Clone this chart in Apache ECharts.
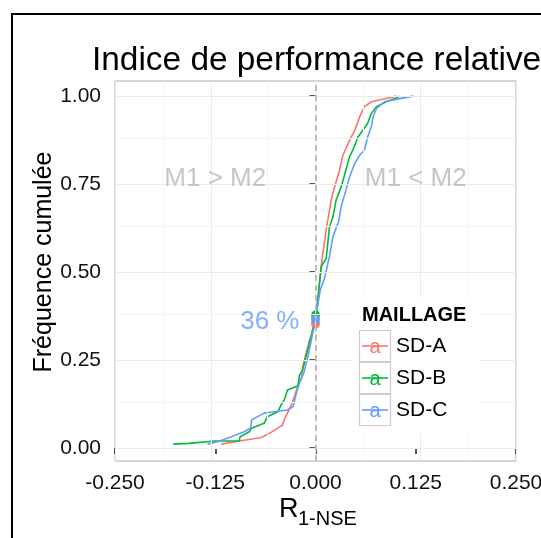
<!DOCTYPE html>
<html><head><meta charset="utf-8">
<script src="https://cdn.jsdelivr.net/npm/echarts@6/dist/echarts.min.js"></script>
<style>html,body{margin:0;padding:0;background:#fff}#c{width:541px;height:538px}</style>
</head><body><div id="c"></div>
<script>
// ---- data ----
const seriesNames = ['SD-A', 'SD-B', 'SD-C'];
const seriesColors = ['#F8766D', '#00BA38', '#619CFF'];

const sdA_x = [-0.1175, -0.095, -0.0675, -0.055, -0.041, -0.039, -0.029, -0.0225, -0.0175, -0.016, -0.0075, 0, 0.004, 0.0083, 0.0133, 0.0196, 0.0238, 0.03, 0.0342, 0.0425, 0.049, 0.055, 0.061, 0.0696, 0.088, 0.101];
const sdA_y = [0.011, 0.02, 0.03, 0.045, 0.065, 0.08, 0.128, 0.173, 0.2, 0.23, 0.307, 0.353, 0.45, 0.539, 0.619, 0.705, 0.742, 0.79, 0.832, 0.875, 0.903, 0.941, 0.97, 0.984, 0.993, 1.0];

const sdB_x = [-0.1775, -0.1575, -0.126, -0.095, -0.094, -0.0825, -0.080, -0.064, -0.06, -0.047, -0.043, -0.039, -0.035, -0.022, -0.02, -0.016, -0.012, -0.0054, 0, 0.003, 0.007, 0.0133, 0.0175, 0.0217, 0.0258, 0.032, 0.038, 0.0425, 0.0467, 0.053, 0.059, 0.065, 0.0696, 0.076, 0.088, 0.099, 0.105];
const sdB_y = [0.011, 0.013, 0.02, 0.02, 0.032, 0.046, 0.056, 0.07, 0.089, 0.103, 0.122, 0.136, 0.165, 0.176, 0.207, 0.222, 0.26, 0.316, 0.378, 0.42, 0.515, 0.539, 0.629, 0.657, 0.705, 0.742, 0.79, 0.828, 0.847, 0.884, 0.903, 0.922, 0.951, 0.97, 0.984, 0.993, 1.0];

const sdC_x = [-0.1346, -0.122, -0.105, -0.089, -0.081, -0.0796, -0.064, -0.051, -0.035, -0.028, -0.024, -0.02, -0.014, -0.0075, 0, 0.006, 0.011, 0.0175, 0.0217, 0.029, 0.032, 0.038, 0.0425, 0.049, 0.055, 0.061, 0.065, 0.0696, 0.0717, 0.076, 0.086, 0.105, 0.122];
const sdC_y = [0.011, 0.018, 0.032, 0.046, 0.056, 0.08, 0.099, 0.103, 0.108, 0.117, 0.155, 0.184, 0.217, 0.28, 0.366, 0.45, 0.48, 0.545, 0.6, 0.645, 0.686, 0.733, 0.771, 0.809, 0.832, 0.847, 0.884, 0.913, 0.941, 0.965, 0.984, 0.993, 1.0];

const crossX = [0, 0, 0];
const crossY = [0.353, 0.378, 0.366];

const xTicks = [-0.25, -0.125, 0, 0.125, 0.25];
const yTicks = [0, 0.25, 0.5, 0.75, 1];
const xMinor = [-0.1875, -0.0625, 0.0625, 0.1875];
const yMinor = [0.125, 0.375, 0.625, 0.875];

const annotTexts = ['M1 > M2', 'M1 < M2'];
const annotX = [-0.125, 0.125];
const annotY = [0.765, 0.765];
const pctText = '36 %';
const pctX = -0.02;
const pctY = 0.358;

const titleText = 'Indice de performance relative';
const yTitle = 'Fréquence cumulée';
const legendTitle = 'MAILLAGE';

// ---- build ----
const FF = '"Liberation Sans", Arial, sans-serif';
const zip = (xs, ys) => xs.map((x, i) => [x, ys[i]]);
const curves = [zip(sdA_x, sdA_y), zip(sdB_x, sdB_y), zip(sdC_x, sdC_y)];

const gridLines = [];
xMinor.forEach(v => gridLines.push({ xAxis: v, lineStyle: { color: '#f4f4f4', width: 1, type: 'solid' } }));
yMinor.forEach(v => gridLines.push({ yAxis: v, lineStyle: { color: '#f4f4f4', width: 1, type: 'solid' } }));
xTicks.forEach(v => gridLines.push({ xAxis: v, lineStyle: { color: '#ebebeb', width: 1, type: 'solid' } }));
yTicks.forEach(v => gridLines.push({ yAxis: v, lineStyle: { color: '#ebebeb', width: 1, type: 'solid' } }));
gridLines.push({ xAxis: 0, lineStyle: { color: '#b0b0b0', width: 1.6, type: [6, 4] } });

const series = [{
  type: 'line', data: [], z: 1, silent: true,
  markLine: { silent: true, symbol: ['none', 'none'], label: { show: false }, animation: false, data: gridLines }
}];
curves.forEach((d, i) => series.push({
  name: seriesNames[i], type: 'line', data: d, showSymbol: false, z: 3,
  lineStyle: { color: seriesColors[i], width: 1.6 }, itemStyle: { color: seriesColors[i] }
}));
crossY.forEach((y, i) => series.push({
  type: 'scatter', data: [[crossX[i], y]], symbolSize: 9, z: 4,
  itemStyle: { color: seriesColors[i], opacity: 1 }
}));
series.push({
  type: 'scatter', symbolSize: 0, z: 5, silent: true,
  data: annotTexts.map((t, i) => ({ name: t, value: [annotX[i], annotY[i]] })),
  label: { show: true, position: 'inside', formatter: p => p.name, fontFamily: FF, fontSize: 26, color: '#b8b8b8' }
});
series.push({
  type: 'scatter', symbolSize: 0, z: 5, silent: true,
  data: [{ name: pctText, value: [pctX, pctY] }],
  label: { show: true, position: 'left', distance: 0, formatter: p => p.name, fontFamily: FF, fontSize: 26, color: '#619CFF' }
});

// legend graphic
const legendEls = [
  { type: 'rect', z: 100, shape: { x: 352, y: 297, width: 128, height: 136 }, style: { fill: '#ffffff' } },
  { type: 'text', z: 101, x: 362, y: 315, style: { text: legendTitle, fontWeight: 'bold', fontSize: 20, fontFamily: FF, fill: '#000', verticalAlign: 'middle' } }
];
seriesNames.forEach((n, i) => {
  const y0 = 330 + i * 32;
  legendEls.push({ type: 'rect', z: 101, shape: { x: 359.5, y: y0 + 0.5, width: 31, height: 31 }, style: { fill: '#fff', stroke: '#cccccc', lineWidth: 1.2 } });
  legendEls.push({ type: 'line', z: 102, shape: { x1: 362, y1: y0 + 16, x2: 388, y2: y0 + 16 }, style: { stroke: seriesColors[i], lineWidth: 1.6 } });
  legendEls.push({ type: 'text', z: 103, x: 375, y: y0 + 17, style: { text: 'a', fontSize: 20, fontFamily: FF, fill: seriesColors[i], align: 'center', verticalAlign: 'middle' } });
  legendEls.push({ type: 'text', z: 101, x: 396, y: y0 + 16, style: { text: n, fontSize: 21, fontFamily: FF, fill: '#000', verticalAlign: 'middle' } });
});

const chart = echarts.init(document.getElementById('c'), null, { renderer: 'canvas' });
chart.setOption({
  animation: false,
  backgroundColor: '#fff',
  grid: { left: 115, right: 25, top: 81, bottom: 77, show: true, borderColor: '#aaaaaa', borderWidth: 1, backgroundColor: 'transparent', containLabel: false, outerBoundsMode: 'none' },
  xAxis: {
    type: 'value', min: -0.25, max: 0.25, interval: 0.125,
    axisLine: { show: false }, splitLine: { show: false },
    axisTick: { show: true, length: 6, lineStyle: { color: '#222', width: 1.5 } },
    axisLabel: { margin: 12, fontFamily: FF, fontSize: 21, color: '#111', formatter: v => v.toFixed(3), showMinLabel: true, showMaxLabel: true, hideOverlap: false }
  },
  yAxis: {
    type: 'value', min: -0.037, max: 1.043,
    axisLine: { show: false }, splitLine: { show: false },
    axisTick: { show: true, length: 6, customValues: yTicks, lineStyle: { color: '#222', width: 1.5 } },
    axisLabel: { margin: 14, fontFamily: FF, fontSize: 21, color: '#111', customValues: yTicks, formatter: v => v.toFixed(2) }
  },
  graphic: [
    { type: 'polyline', z: 100, shape: { points: [[12, 538], [12, 14], [541, 14]] }, style: { stroke: '#000', lineWidth: 2, fill: null } },
    { type: 'text', z: 100, x: 92, y: 61, style: { text: titleText, fontSize: 33.4, fontFamily: FF, fill: '#000', verticalAlign: 'middle' } },
    { type: 'text', z: 100, x: 44, y: 262, rotation: Math.PI / 2, style: { text: yTitle, fontSize: 25, fontFamily: FF, fill: '#000', align: 'center', verticalAlign: 'middle' } },
    { type: 'text', z: 100, x: 279, y: 510, style: { text: 'R', fontSize: 27, fontFamily: FF, fill: '#000', verticalAlign: 'middle' } },
    { type: 'text', z: 100, x: 298, y: 519, style: { text: '1-NSE', fontSize: 20, fontFamily: FF, fill: '#000', verticalAlign: 'middle' } },
    { type: 'group', z: 100, children: legendEls }
  ],
  series: series
});
</script></body></html>
